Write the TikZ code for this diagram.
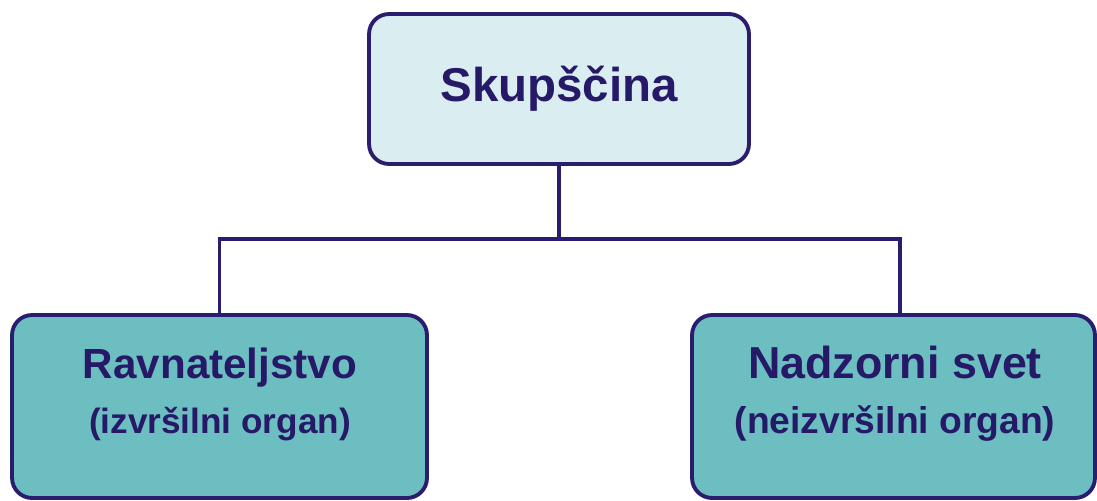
\documentclass[tikz,border=0pt]{standalone}
\usepackage{fontspec}
\setmainfont{Liberation Sans}
\usepackage{xcolor}
\definecolor{orgnavy}{RGB}{42,28,110}
\definecolor{orgtext}{RGB}{38,26,104}
\definecolor{orglight}{RGB}{218,237,240}
\definecolor{orgteal}{RGB}{108,190,192}
\usepackage{tikz}
\usetikzlibrary{positioning, calc}

\begin{document}
\begin{tikzpicture}[x=0.02cm, y=-0.02cm,
  orgbox/.style={draw=orgnavy, line width=2.2pt, rounded corners=0.4cm,
    inner sep=0pt},
  orgtxt/.style={text=orgtext, align=center, inner sep=0pt, anchor=base},
  link/.style={draw=orgnavy, line width=2.2pt}]
  \useasboundingbox (0,0) rectangle (1097,500);

  % Top box
  \node[orgbox, fill=orglight, minimum width=7.6cm, minimum height=3cm,
    text=orgtext, font=\fontsize{27}{32}\selectfont\bfseries] (skup) at (559,89) {Skupščina};

  % Bottom boxes
  \node[orgbox, fill=orgteal, minimum width=8.3cm, minimum height=3.66cm] (ravn) at (219.5,406.5) {};
  \node[orgtxt, font=\fontsize{24}{31}\selectfont\bfseries] (ravntxt) at (220,433)
    {Ravnateljstvo\\{\fontsize{20}{31}\selectfont (izvršilni organ)}};
  \node[orgbox, fill=orgteal, minimum width=8.06cm, minimum height=3.66cm] (nadz) at (893.5,406.5) {};
  \node[orgtxt, font=\fontsize{25.5}{31}\selectfont\bfseries] (nadztxt) at (895,433)
    {Nadzorni svet\\{\fontsize{21.2}{31}\selectfont (neizvršilni organ)}};

  % Connectors
  \coordinate (bus) at (559,239);
  \draw[link] (skup.south) -- (bus);
  \draw[link] (ravn.north) |- (bus) -| ($(nadz.north)+(6.5,0)$);
\end{tikzpicture}
\end{document}
